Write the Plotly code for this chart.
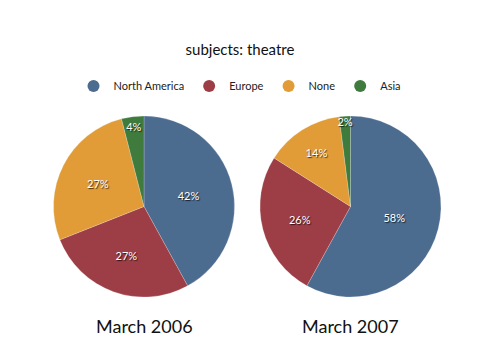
import plotly.graph_objects as go

categories = ["North America", "Europe", "None", "Asia"]
values_2006 = [42, 27, 27, 4]
values_2007 = [58, 26, 14, 2]
pie_titles = ["March 2006", "March 2007"]
chart_title = "subjects: theatre"

colors = ["#4b6b8f", "#9d3d45", "#e19b37", "#3f7b3c"]
FONT = "Lato"
W, H = 480, 360
OFF = 8  # page body margin


def px(x):
    return (x - OFF) / W


def py(y):
    return 1 - (y - OFF) / H


fig = go.Figure()

domains = [
    dict(x=[px(53), px(235)], y=[py(297), py(116)]),
    dict(x=[px(260), px(441)], y=[py(297), py(116)]),
]

for vals, dom in zip([values_2006, values_2007], domains):
    fig.add_trace(go.Pie(
        labels=categories,
        values=vals,
        sort=False,
        direction="clockwise",
        rotation=0,
        domain=dom,
        marker=dict(colors=colors, line=dict(color="rgba(255,255,255,0.35)", width=0.6)),
        texttemplate="%{percent:.0%}",
        textposition="inside",
        insidetextorientation="horizontal",
        textfont=dict(family=FONT, size=11, color="white", shadow="1px 1px 1px rgba(0,0,0,0.7)"),
        hoverinfo="label+percent",
        showlegend=False,
    ))

# legend entries with circular markers
for name, c in zip(categories, colors):
    fig.add_trace(go.Scatter(
        x=[None], y=[None], mode="markers", name=name,
        marker=dict(color=c, size=12, symbol="circle"),
        showlegend=True,
    ))

for t, dom in zip(pie_titles, domains):
    fig.add_annotation(
        text=t, x=(dom["x"][0] + dom["x"][1]) / 2, y=py(326),
        xref="paper", yref="paper", showarrow=False,
        font=dict(family=FONT, size=18, color="#111111"),
        xanchor="center", yanchor="middle",
    )

fig.update_layout(
    width=W, height=H,
    margin=dict(l=0, r=0, t=0, b=0),
    paper_bgcolor="white", plot_bgcolor="white",
    title=dict(text=chart_title, x=px(240), xanchor="center", y=py(50), yanchor="middle",
               font=dict(family=FONT, size=15, color="#111111")),
    legend=dict(orientation="h", x=px(240), xanchor="center", y=py(86), yanchor="middle",
                font=dict(family=FONT, size=11, color="#222222"), itemwidth=30,
                tracegroupgap=0),
    xaxis=dict(visible=False),
    yaxis=dict(visible=False),
    uniformtext=dict(minsize=11, mode="show"),
)

fig.write_html("out.html")
